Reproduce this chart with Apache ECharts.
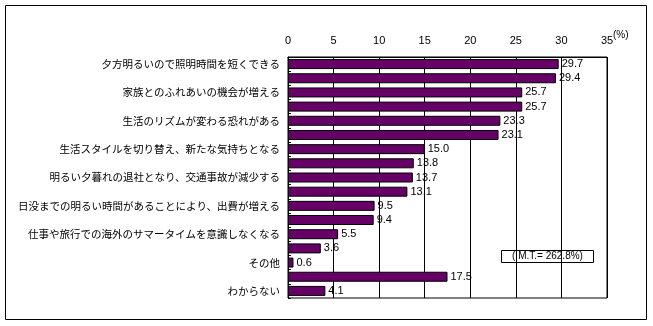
<!DOCTYPE html>
<html><head><meta charset="utf-8">
<script src="https://cdn.jsdelivr.net/npm/echarts@6/dist/echarts.min.js"></script>
<style>html,body{margin:0;padding:0;background:#fff}#c{width:653px;height:326px}</style>
</head><body><div id="c"></div>
<script>
const categories = [
  "夕方明るいので照明時間を短くできる", "",
  "家族とのふれあいの機会が増える", "",
  "生活のリズムが変わる恐れがある", "",
  "生活スタイルを切り替え、新たな気持ちとなる", "",
  "明るい夕暮れの退社となり、交通事故が減少する", "",
  "日没までの明るい時間があることにより、出費が増える", "",
  "仕事や旅行での海外のサマータイムを意識しなくなる", "",
  "その他", "",
  "わからない"
];
const values = [29.7, 29.4, 25.7, 25.7, 23.3, 23.1, 15.0, 13.8, 13.7, 13.1, 9.5, 9.4, 5.5, 3.6, 0.6, 17.5, 4.1];
const xTicks = [0, 5, 10, 15, 20, 25, 30, 35];
const unitLabel = "(%)";
const noteText = "( M.T.= 262.8%)";

const chart = echarts.init(document.getElementById('c'));
chart.setOption({
  animation: false,
  grid: {left: 288, top: 57, right: 46, bottom: 28, show: true, borderColor: '#000', borderWidth: 1},
  xAxis: {
    type: 'value', position: 'top', min: xTicks[0], max: xTicks[xTicks.length - 1], interval: 5,
    axisLine: {show: true, lineStyle: {color: '#000'}},
    axisTick: {show: false},
    splitLine: {show: true, lineStyle: {color: '#000', width: 1}},
    axisLabel: {color: '#000', fontSize: 11, fontFamily: 'Liberation Sans, Arial', margin: 11}
  },
  yAxis: {
    type: 'category', inverse: true, data: categories,
    axisLine: {show: true, lineStyle: {color: '#000'}},
    axisTick: {show: true, inside: true, length: 3, lineStyle: {color: '#000'}},
    axisLabel: {interval: 0, color: '#000', fontSize: 10.5, fontFamily: 'Noto Sans CJK JP', margin: 8}
  },
  series: [{
    type: 'bar', data: values, barWidth: 10,
    itemStyle: {color: '#660066', borderColor: '#000', borderWidth: 1},
    label: {show: true, position: 'right', distance: 3, color: '#000', fontSize: 11,
      fontFamily: 'Liberation Sans, Arial', formatter: p => p.value.toFixed(1)}
  }],
  graphic: [
    {type: 'rect', shape: {x: 5.5, y: 5.5, width: 641, height: 314}, style: {fill: 'none', stroke: '#000', lineWidth: 1}, silent: true},
    {type: 'text', x: 613, y: 30, style: {text: unitLabel, fill: '#000', fontSize: 10, fontFamily: 'Liberation Sans, Arial'}},
    {type: 'rect', shape: {x: 501.5, y: 250.5, width: 92, height: 12}, style: {fill: '#fff', stroke: '#000', lineWidth: 1}},
    {type: 'text', x: 547.5, y: 256.5, style: {text: noteText, fill: '#000', fontSize: 10, fontFamily: 'Liberation Sans, Arial', align: 'center', verticalAlign: 'middle'}}
  ]
});
</script></body></html>
